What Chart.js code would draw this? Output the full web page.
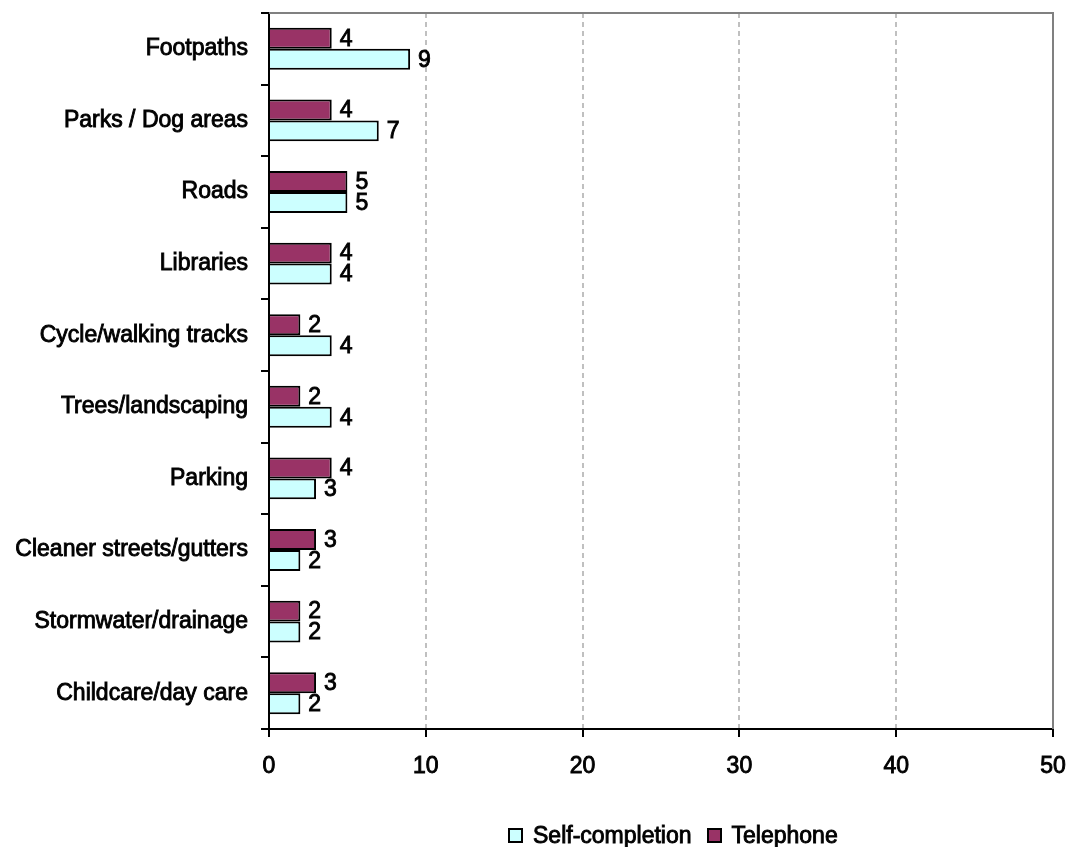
<!DOCTYPE html>
<html>
<head>
<meta charset="utf-8">
<script src="https://cdn.jsdelivr.net/npm/chart.js@4/dist/chart.umd.min.js"></script>
<style>
  html, body { margin: 0; padding: 0; background: #fff; }
  #wrap { position: relative; width: 1071px; height: 847px; }
  #legend {
    position: absolute; left: 508px; top: 822px; height: 26px;
    display: flex; align-items: center;
    font-family: 'Liberation Sans', Arial, sans-serif; font-size: 23px; color: #000;
    -webkit-text-stroke: 0.9px #000;
    line-height: 26px; white-space: nowrap;
  }
  .item { display: flex; align-items: center; margin-right: 15px; }
  .box { width: 15px; height: 15px; box-sizing: border-box; border: 2px solid #000; margin-right: 10px; }
</style>
</head>
<body>
<div id="wrap">
  <canvas id="chart" width="1071" height="847"></canvas>
  <div id="legend"></div>
</div>
<script>
// Categories, top to bottom
const categories = [
  'Footpaths', 'Parks / Dog areas', 'Roads', 'Libraries', 'Cycle/walking tracks',
  'Trees/landscaping', 'Parking', 'Cleaner streets/gutters', 'Stormwater/drainage', 'Childcare/day care'
];
// Series values
const telephone = [4, 4, 5, 4, 2, 2, 4, 3, 2, 3];
const selfCompletion = [9, 7, 5, 4, 4, 4, 3, 2, 2, 2];
// Value axis ticks
const xTicks = [0, 10, 20, 30, 40, 50];

const FONT = "'Liberation Sans', Arial, sans-serif";
const FONT_SIZE = 23;
const STROKE = 0.9;
const COLOR_TEL = '#993366';
const COLOR_SELF = '#CCFFFF';

// Legend (order: Self-completion, Telephone)
const legendItems = [
  { label: 'Self-completion', color: COLOR_SELF },
  { label: 'Telephone', color: COLOR_TEL }
];
const legendEl = document.getElementById('legend');
legendItems.forEach(it => {
  const d = document.createElement('div');
  d.className = 'item';
  const b = document.createElement('span');
  b.className = 'box';
  b.style.background = it.color;
  const t = document.createElement('span');
  t.textContent = it.label;
  d.appendChild(b); d.appendChild(t);
  legendEl.appendChild(d);
});

// Value labels to the right of each bar
const valueLabels = {
  id: 'valueLabels',
  afterDatasetsDraw(chart) {
    const ctx = chart.ctx;
    ctx.save();
    ctx.font = FONT_SIZE + 'px ' + FONT;
    ctx.fillStyle = '#000';
    ctx.strokeStyle = '#000';
    ctx.lineWidth = STROKE;
    ctx.textAlign = 'left';
    ctx.textBaseline = 'middle';
    chart.data.datasets.forEach((ds, di) => {
      const meta = chart.getDatasetMeta(di);
      meta.data.forEach((el, i) => {
        const s = String(ds.data[i]);
        ctx.strokeText(s, el.x + 8, el.y + 1);
        ctx.fillText(s, el.x + 8, el.y + 1);
      });
    });
    ctx.restore();
  }
};

// Gray frame on the top and right of the plot area
const plotFrame = {
  id: 'plotFrame',
  beforeDatasetsDraw(chart) {
    const { ctx, chartArea: a } = chart;
    ctx.save();
    ctx.strokeStyle = '#808080';
    ctx.lineWidth = 2;
    ctx.beginPath();
    ctx.moveTo(a.left, a.top);
    ctx.lineTo(a.right, a.top);
    ctx.lineTo(a.right, a.bottom);
    ctx.stroke();
    ctx.restore();
  }
};

new Chart(document.getElementById('chart'), {
  type: 'bar',
  data: {
    labels: categories,
    datasets: [
      {
        label: 'Telephone', data: telephone,
        backgroundColor: COLOR_TEL, borderColor: '#000', borderWidth: 2,
        categoryPercentage: 0.585, barPercentage: 1.0
      },
      {
        label: 'Self-completion', data: selfCompletion,
        backgroundColor: COLOR_SELF, borderColor: '#000', borderWidth: 2,
        categoryPercentage: 0.585, barPercentage: 1.0
      }
    ]
  },
  options: {
    indexAxis: 'y',
    responsive: false,
    animation: false,
    devicePixelRatio: 1,
    layout: { padding: { top: 13, right: 18, bottom: 0, left: 0 } },
    plugins: {
      legend: { display: false },
      tooltip: { enabled: false }
    },
    scales: {
      x: {
        min: 0, max: 50,
        afterBuildTicks(scale) { scale.ticks = xTicks.map(v => ({ value: v })); },
        afterFit(scale) {
          scale.height = 118;
          scale.paddingLeft = 0; scale.paddingRight = 0;
        },
        ticks: {
          color: '#000', padding: 16,
          textStrokeColor: '#000', textStrokeWidth: STROKE,
          font: { family: FONT, size: FONT_SIZE },
          maxRotation: 0
        },
        grid: {
          drawOnChartArea: true,
          color: c => (c.tick && (c.tick.value === 0 || c.tick.value === 50)) ? 'rgba(0,0,0,0)' : '#C0C0C0',
          lineWidth: 2,
          tickColor: '#000', tickLength: 8, tickWidth: 2
        },
        border: { display: true, color: '#000', width: 2, dash: [5, 4] }
      },
      y: {
        afterFit(scale) {
          scale.width = 269;
          scale.paddingTop = 0; scale.paddingBottom = 0;
        },
        ticks: {
          color: '#000', padding: 13,
          textStrokeColor: '#000', textStrokeWidth: STROKE,
          font: { family: FONT, size: FONT_SIZE }
        },
        grid: {
          offset: true,
          drawOnChartArea: false,
          color: '#000', tickColor: '#000', tickLength: 8, tickWidth: 2, lineWidth: 2
        },
        border: { display: true, color: '#000', width: 2 }
      }
    }
  },
  plugins: [plotFrame, valueLabels]
});
</script>
</body>
</html>
